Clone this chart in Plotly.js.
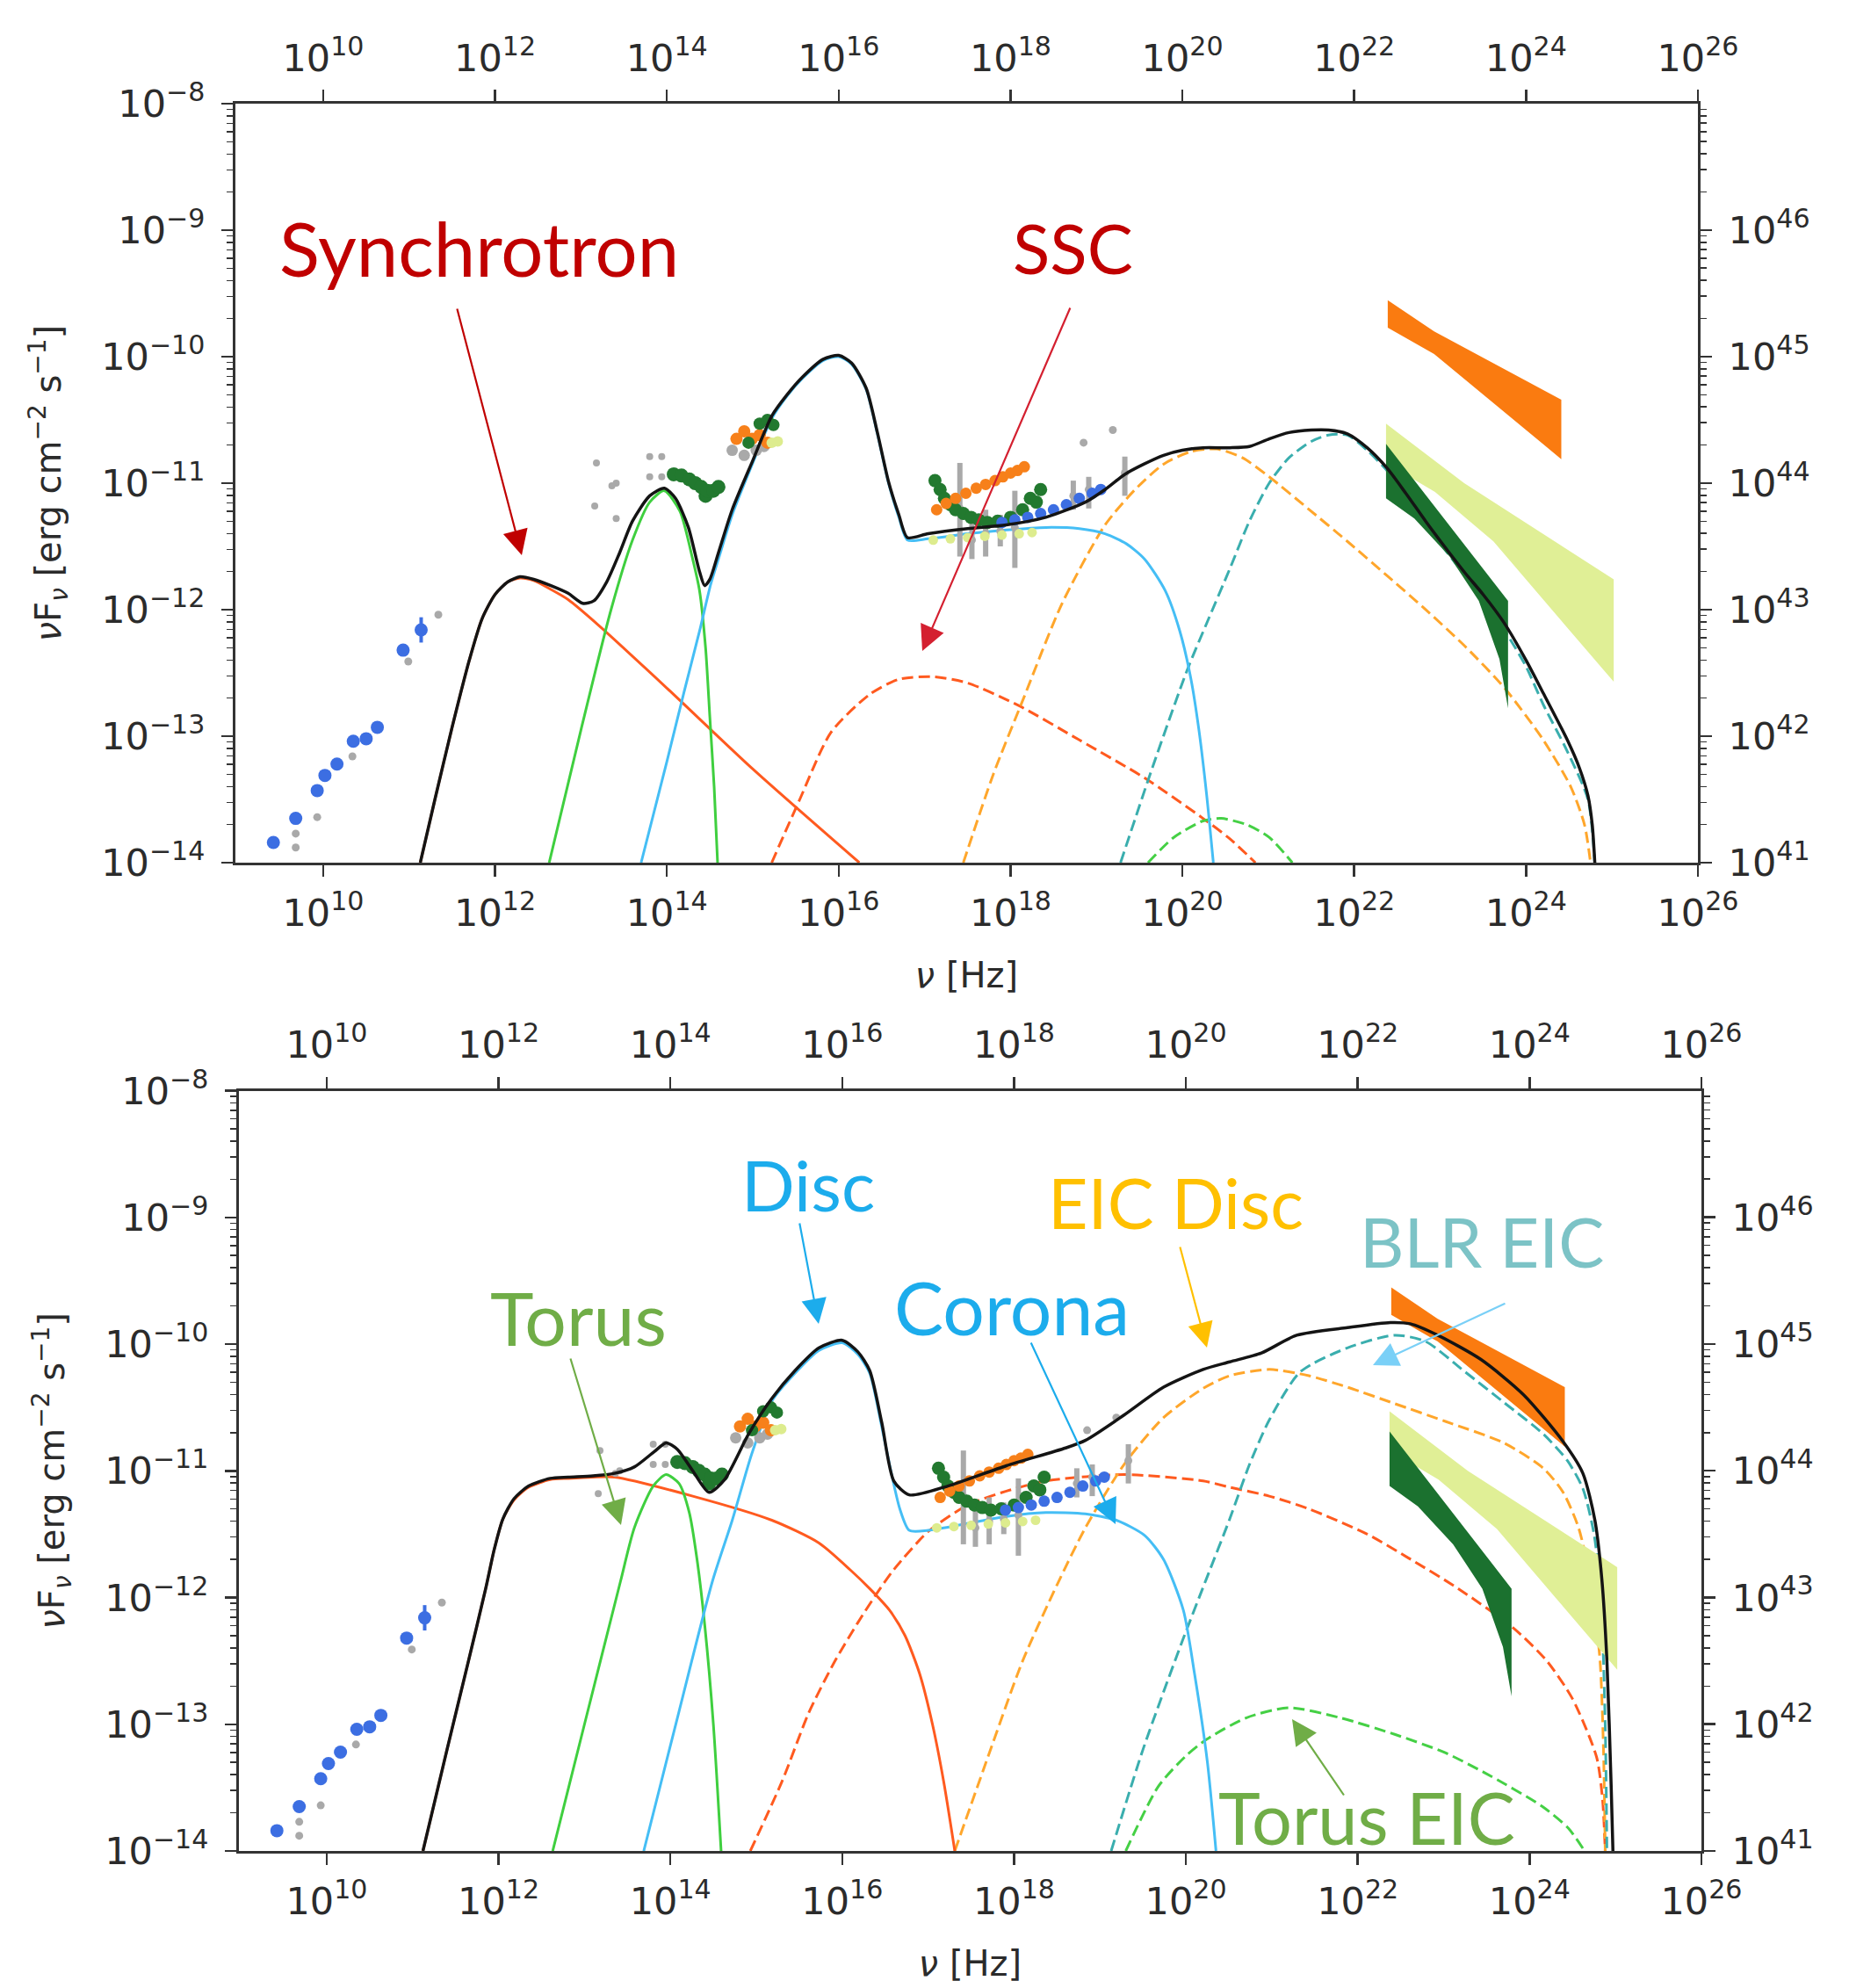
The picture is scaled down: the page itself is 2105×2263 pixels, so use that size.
<!DOCTYPE html>
<html><head><meta charset="utf-8">
<script src="https://cdn.plot.ly/plotly-3.0.1.min.js"></script>
<style>html,body{margin:0;padding:0;background:#fff;} #chart{width:2105px;height:2263px;}</style>
</head><body><div id="chart"></div>
<script>
// ---------- tick labels ----------
const xTickExp = [10,12,14,16,18,20,22,24,26];
const xTickText = ['10<sup>10</sup>','10<sup>12</sup>','10<sup>14</sup>','10<sup>16</sup>','10<sup>18</sup>','10<sup>20</sup>','10<sup>22</sup>','10<sup>24</sup>','10<sup>26</sup>'];
const yTickExp = [-14,-13,-12,-11,-10,-9,-8];
const yTickText = ['10<sup>−14</sup>','10<sup>−13</sup>','10<sup>−12</sup>','10<sup>−11</sup>','10<sup>−10</sup>','10<sup>−9</sup>','10<sup>−8</sup>'];
const yRightTickExp = [41,42,43,44,45,46];
const yRightTickText = ['10<sup>41</sup>','10<sup>42</sup>','10<sup>43</sup>','10<sup>44</sup>','10<sup>45</sup>','10<sup>46</sup>'];

// ---------- model curves, top panel (log10 nu, log10 nuFnu) ----------
const topTotalNu = [11.13,11.3,11.5,11.7,11.85,12.0,12.15,12.29,12.45,12.65,12.85,13.02,13.15,13.3,13.45,13.6,13.8,13.97,14.1,14.25,14.38,14.44,14.5,14.6,14.76,15.0,15.22,15.4,15.58,15.82,16.0,16.15,16.32,16.45,16.58,16.7,16.8,17.04,17.5,17.95,18.41,18.87,19.1,19.33,19.55,19.78,20.0,20.24,20.55,20.78,21.01,21.24,21.5,21.7,21.92,22.15,22.38,22.6,22.83,23.05,23.29,23.5,23.74,24.0,24.2,24.48,24.62,24.72,24.77,24.8];
const topTotalF  = [-14,-13.5,-12.93,-12.4,-12.07,-11.88,-11.78,-11.74,-11.76,-11.81,-11.87,-11.95,-11.93,-11.78,-11.55,-11.3,-11.1,-11.04,-11.12,-11.35,-11.7,-11.81,-11.76,-11.55,-11.21,-10.82,-10.47,-10.3,-10.16,-10.02,-9.99,-10.05,-10.25,-10.6,-10.99,-11.25,-11.43,-11.40,-11.36,-11.33,-11.27,-11.15,-11.05,-10.93,-10.85,-10.78,-10.74,-10.72,-10.72,-10.71,-10.65,-10.6,-10.58,-10.58,-10.61,-10.72,-10.88,-11.08,-11.3,-11.5,-11.71,-11.88,-12.1,-12.4,-12.66,-13.03,-13.25,-13.47,-13.7,-14];
const topSyncNu = [11.13,11.3,11.5,11.7,11.85,12.0,12.15,12.29,12.45,12.65,12.85,13.2,14.0,15.0,16.24];
const topSyncF  = [-14,-13.5,-12.93,-12.4,-12.07,-11.88,-11.78,-11.75,-11.77,-11.84,-11.92,-12.12,-12.62,-13.26,-14];
const topTorusNu = [12.63,13.0,13.35,13.6,13.8,13.97,14.15,14.3,14.38,14.45,14.5,14.55,14.59];
const topTorusF  = [-14,-12.95,-12.0,-11.45,-11.15,-11.06,-11.22,-11.6,-11.85,-12.3,-12.85,-13.4,-14];
const topDiscNu = [13.7,14.0,14.2,14.38,14.51,14.6,14.76,15.0,15.22,15.4,15.58,15.82,16.0,16.15,16.32,16.45,16.58,16.7,16.8,17.04,17.5,17.95,18.41,18.8,19.1,19.35,19.56,19.8,19.97,20.1,20.19,20.28,20.36];
const topDiscF  = [-14,-13.2,-12.65,-12.17,-11.8,-11.6,-11.25,-10.84,-10.49,-10.31,-10.17,-10.03,-10.0,-10.06,-10.26,-10.61,-11.0,-11.27,-11.45,-11.44,-11.4,-11.37,-11.35,-11.36,-11.4,-11.48,-11.6,-11.85,-12.17,-12.55,-12.94,-13.45,-14];
const topSSCNu = [15.22,15.54,15.91,16.36,16.7,17.1,17.5,18.1,18.8,19.56,20.24,20.55,20.85];
const topSSCF  = [-14,-13.51,-12.97,-12.67,-12.55,-12.53,-12.58,-12.76,-13.03,-13.33,-13.65,-13.81,-14];
const topEICDiscNu = [17.45,17.8,18.14,18.6,19.1,19.45,19.78,20.1,20.4,20.7,21.01,21.46,21.92,22.38,22.8,23.29,23.75,24.2,24.52,24.68,24.75];
const topEICDiscF  = [-14,-13.3,-12.72,-11.95,-11.33,-11.05,-10.85,-10.75,-10.73,-10.8,-10.95,-11.2,-11.46,-11.73,-11.98,-12.29,-12.62,-13.03,-13.4,-13.7,-14];
const topBLRNu = [19.28,19.65,20.06,20.3,20.55,20.78,21.01,21.24,21.5,21.7,21.92,22.15,22.38,22.6,22.83,23.05,23.29,23.5,23.81,24.0,24.2,24.48,24.72,24.8];
const topBLRF  = [-14,-13.25,-12.47,-12.08,-11.68,-11.3,-11.0,-10.8,-10.67,-10.62,-10.62,-10.74,-10.9,-11.1,-11.32,-11.52,-11.73,-11.92,-12.23,-12.45,-12.75,-13.12,-13.5,-14];
const topTorusEICNu = [19.6,19.9,20.24,20.45,20.75,21.01,21.28];
const topTorusEICF  = [-14,-13.8,-13.67,-13.65,-13.7,-13.8,-14];

// ---------- model curves, bottom panel ----------
const botTotalNu = [11.12,11.4,11.65,11.85,11.95,12.05,12.18,12.35,12.6,12.81,13.1,13.35,13.58,13.81,13.95,14.08,14.26,14.45,14.63,14.91,15.18,15.45,15.73,16.0,16.18,16.32,16.46,16.6,16.78,17.23,17.91,18.6,18.83,19.28,19.74,20.2,20.51,20.88,21.29,21.88,22.38,22.61,22.93,23.43,23.93,24.39,24.62,24.76,24.84,24.9,24.95,24.97];
const botTotalF  = [-14,-13.2,-12.5,-11.93,-11.62,-11.38,-11.22,-11.12,-11.06,-11.05,-11.04,-11.02,-10.97,-10.85,-10.78,-10.83,-11.0,-11.17,-11.07,-10.71,-10.43,-10.21,-10.03,-9.97,-10.06,-10.21,-10.62,-11.08,-11.19,-11.12,-10.96,-10.82,-10.76,-10.56,-10.34,-10.2,-10.14,-10.07,-9.93,-9.87,-9.83,-9.84,-9.93,-10.12,-10.4,-10.77,-11.02,-11.39,-11.85,-12.5,-13.5,-14];
const botSyncNu = [11.12,11.4,11.65,11.85,11.95,12.05,12.18,12.35,12.6,12.81,13.1,13.35,14.26,15.18,15.73,16.09,16.32,16.55,16.73,16.9,17.05,17.18,17.31];
const botSyncF  = [-14,-13.2,-12.5,-11.93,-11.62,-11.38,-11.23,-11.13,-11.07,-11.06,-11.05,-11.05,-11.2,-11.39,-11.57,-11.78,-11.93,-12.1,-12.3,-12.6,-13.0,-13.45,-14];
const botTorusNu = [12.63,13.0,13.42,13.58,13.8,13.95,14.1,14.22,14.31,14.4,14.5,14.59];
const botTorusF  = [-14,-13.0,-11.87,-11.45,-11.12,-11.03,-11.1,-11.33,-11.7,-12.22,-13.0,-14];
const botDiscNu = [13.69,14.1,14.49,14.72,14.95,15.18,15.45,15.73,16.0,16.18,16.32,16.45,16.55,16.67,16.78,17.0,17.91,18.37,18.83,19.19,19.52,19.74,19.97,20.1,20.25,20.35];
const botDiscF  = [-14,-12.9,-11.87,-11.39,-10.86,-10.45,-10.23,-10.05,-9.99,-10.08,-10.23,-10.62,-10.95,-11.3,-11.47,-11.47,-11.36,-11.33,-11.34,-11.39,-11.51,-11.7,-12.1,-12.6,-13.3,-14];
const botSSCNu = [14.93,15.3,15.61,15.9,16.18,16.4,16.6,17.0,17.46,17.91,18.37,19.28,20.2,20.51,20.97,21.43,22.11,22.57,23.17,23.81,24.2,24.5,24.78,24.85,24.88];
const botSSCF  = [-14,-13.45,-12.91,-12.52,-12.2,-11.97,-11.78,-11.48,-11.27,-11.16,-11.08,-11.03,-11.08,-11.13,-11.2,-11.3,-11.5,-11.68,-11.93,-12.24,-12.5,-12.8,-13.26,-13.6,-14];
const botEICDiscNu = [17.31,17.7,18.1,18.5,18.83,19.28,19.74,20.2,20.51,20.97,21.43,21.88,22.43,23.02,23.7,24.16,24.39,24.57,24.72,24.82,24.86,24.88];
const botEICDiscF  = [-14,-13.25,-12.5,-11.9,-11.45,-10.95,-10.58,-10.35,-10.25,-10.2,-10.25,-10.34,-10.47,-10.61,-10.78,-10.98,-11.17,-11.45,-11.9,-12.5,-13.2,-14];
const botBLRNu = [19.13,19.5,19.96,20.24,20.51,20.74,20.97,21.33,21.88,22.43,22.79,23.25,23.7,24.16,24.44,24.62,24.75,24.83,24.88,24.9];
const botBLRF  = [-14,-13.2,-12.34,-11.85,-11.38,-10.95,-10.6,-10.22,-10.03,-9.93,-9.98,-10.22,-10.46,-10.71,-10.92,-11.14,-11.5,-12.0,-13.0,-14];
const botTorusEICNu = [19.3,19.68,20.0,20.24,20.7,21.2,21.8,22.43,23.0,23.47,24.15,24.45,24.64];
const botTorusEICF  = [-14,-13.49,-13.25,-13.12,-12.95,-12.87,-12.95,-13.08,-13.22,-13.38,-13.65,-13.82,-14];

// ---------- observations (same in both panels) ----------
const radioBlueNu = [9.42,9.68,9.93,10.02,10.16,10.35,10.5,10.63,10.93,11.14];
const radioBlueF  = [-13.84,-13.65,-13.43,-13.31,-13.22,-13.04,-13.02,-12.93,-12.32,-12.16];
const radioBlueErr = [0,0,0,0,0,0,0,0,0,0.1];
const radioGreyNu = [9.68,9.68,9.93,10.34,10.99,11.34];
const radioGreyF  = [-13.77,-13.88,-13.64,-13.16,-12.41,-12.04];
const irGreyNu = [13.16,13.18,13.36,13.41,13.41,13.80,13.94,13.80,13.94,14.08,14.21];
const irGreyF  = [-11.18,-10.84,-11.02,-11.0,-11.28,-10.79,-10.79,-10.95,-10.95,-10.95,-10.95];
const irGreenNu = [14.08,14.17,14.26,14.33,14.40,14.45,14.47,14.54,14.6];
const irGreenF  = [-10.93,-10.94,-10.97,-11.0,-11.03,-11.1,-11.06,-11.06,-11.03];
const optGreyNu = [14.76,14.9,15.04,15.13];
const optGreyF  = [-10.74,-10.78,-10.74,-10.71];
const optGreenNu = [14.95,15.08,15.17,15.24];
const optGreenF  = [-10.68,-10.53,-10.5,-10.54];
const optOrangeNu = [14.81,14.9,14.99,15.08,15.17];
const optOrangeF  = [-10.65,-10.59,-10.65,-10.62,-10.68];
const optLimeNu = [15.22,15.29];
const optLimeF  = [-10.68,-10.67];
const xOrangeNu = [17.14,17.25,17.36,17.48,17.6,17.71,17.82,17.91,18.0,18.08,18.16];
const xOrangeF  = [-11.21,-11.16,-11.12,-11.08,-11.04,-11.01,-10.98,-10.95,-10.92,-10.9,-10.87];
const xGreenNu = [17.12,17.18,17.23,17.3,17.36,17.45,17.54,17.63,17.73,17.85,18.0,18.14,18.23,18.3,18.35];
const xGreenF  = [-10.98,-11.05,-11.12,-11.17,-11.21,-11.24,-11.27,-11.29,-11.31,-11.3,-11.27,-11.21,-11.12,-11.15,-11.05];
const xBlueNu = [17.9,18.05,18.2,18.35,18.5,18.65,18.8,18.95,19.05];
const xBlueF  = [-11.31,-11.29,-11.27,-11.24,-11.21,-11.17,-11.12,-11.08,-11.05];
const xLimeNu = [17.1,17.3,17.5,17.7,17.9,18.1,18.25];
const xLimeF  = [-11.45,-11.44,-11.43,-11.42,-11.41,-11.4,-11.39];
const xGreyNu = [17.41,17.55,17.71,17.88,18.05,18.73,18.91,19.33,18.85,19.19];
const xGreyF  = [-11.2,-11.45,-11.4,-11.38,-11.35,-11.1,-11.05,-10.92,-10.68,-10.58];
const xGreyLo = [-11.58,-11.6,-11.58,-11.5,-11.67,-11.21,-11.2,-11.1,-10.68,-10.58];
const xGreyHi = [-10.84,-11.3,-11.21,-11.25,-11.06,-10.98,-10.95,-10.79,-10.68,-10.58];
// gamma-ray butterflies (polygon outlines)
const bowOrangeNu = [22.39,22.93,24.41,24.41,22.93,22.39];
const bowOrangeF  = [-9.553,-9.8,-10.34,-10.81,-9.98,-9.77];
const bowLimeNu = [22.37,23.28,25.02,25.02,24.3,23.62,22.94,22.37];
const bowLimeF  = [-10.53,-11.0,-11.76,-12.57,-12.0,-11.46,-11.07,-10.84];
const bowGreenNu = [22.37,23.07,23.79,23.79,23.69,23.45,23.11,22.7,22.37];
const bowGreenF  = [-10.69,-11.3,-11.93,-12.78,-12.39,-11.93,-11.58,-11.28,-11.12];

// ---------- helpers ----------
const P = v => Math.pow(10, v);
const W = 2105, H = 2263;
function curve(nu, f, color, width, dash, xa, ya) {
  return {x: nu.map(P), y: f.map(P), mode: 'lines', xaxis: xa, yaxis: ya,
    line: {color: color, width: width, dash: dash || 'solid', shape: 'spline', smoothing: 0.7},
    hoverinfo: 'skip', showlegend: false};
}
function pts(nu, f, color, size, xa, ya, extra) {
  const t = {x: nu.map(P), y: f.map(P), mode: 'markers', xaxis: xa, yaxis: ya,
    marker: {color: color, size: size, line: {width: 0}}, hoverinfo: 'skip', showlegend: false};
  return Object.assign(t, extra || {});
}
function poly(nu, f, color, xa, ya) {
  return {x: nu.map(P), y: f.map(P), mode: 'lines', fill: 'toself', fillcolor: color, xaxis: xa, yaxis: ya,
    line: {width: 0, color: color}, hoverinfo: 'skip', showlegend: false};
}
// empty carrier trace so that the secondary (top / right) axes get drawn
function carrier(xa, ya) {
  return {x: [], y: [], mode: 'lines', xaxis: xa, yaxis: ya, hoverinfo: 'skip', showlegend: false};
}
const DASH = '13px,6px';
const C = {black:'#141414', sync:'#FF5A1F', torus:'#3FCF3F', disc:'#45BEF5', eic:'#FFA62B', blr:'#3AAEAE', torEIC:'#45D045',
  rBlue:'#3C6EE2', grey:'#A9A9A9', dGreen:'#22792F', orange:'#F7801A', lime:'#DDEC8E',
  bowO:'#FA7B10', bowL:'#E0EF96', bowG:'#1B712F'};

function panel(m, xa, ya) {
  const t = [];
  t.push(curve(m.ssc[0], m.ssc[1], C.sync, 3, DASH, xa, ya));
  t.push(curve(m.tei[0], m.tei[1], C.torEIC, 3, DASH, xa, ya));
  t.push(curve(m.eic[0], m.eic[1], C.eic, 3, DASH, xa, ya));
  t.push(curve(m.blr[0], m.blr[1], C.blr, 3, DASH, xa, ya));
  t.push(curve(m.sync[0], m.sync[1], C.sync, 3, null, xa, ya));
  t.push(curve(m.torus[0], m.torus[1], C.torus, 3, null, xa, ya));
  t.push(curve(m.disc[0], m.disc[1], C.disc, 3, null, xa, ya));
  // observations
  t.push(pts(radioGreyNu, radioGreyF, C.grey, 9, xa, ya));
  t.push(pts(radioBlueNu, radioBlueF, C.rBlue, 15, xa, ya, {error_y: {type:'data', symmetric:false,
     array: radioBlueNu.map((v,i)=>P(radioBlueF[i]+radioBlueErr[i])-P(radioBlueF[i])),
     arrayminus: radioBlueNu.map((v,i)=>P(radioBlueF[i])-P(radioBlueF[i]-radioBlueErr[i])),
     color: C.rBlue, thickness: 4, width: 0}}));
  t.push(pts(irGreyNu, irGreyF, C.grey, 8, xa, ya));
  t.push(pts(irGreenNu, irGreenF, C.dGreen, 16, xa, ya));
  t.push(pts(optGreyNu, optGreyF, C.grey, 13, xa, ya));
  t.push(pts(optOrangeNu, optOrangeF, C.orange, 14, xa, ya));
  t.push(pts(optGreenNu, optGreenF, C.dGreen, 14, xa, ya));
  t.push(pts(optLimeNu, optLimeF, C.lime, 12, xa, ya));
  t.push(pts(xGreyNu, xGreyF, C.grey, 9, xa, ya, {error_y: {type:'data', symmetric:false,
     array: xGreyNu.map((v,i)=>P(xGreyHi[i])-P(xGreyF[i])),
     arrayminus: xGreyNu.map((v,i)=>P(xGreyF[i])-P(xGreyLo[i])),
     color: C.grey, thickness: 6, width: 0}}));
  t.push(pts(xLimeNu, xLimeF, C.lime, 11, xa, ya));
  t.push(pts(xGreenNu, xGreenF, C.dGreen, 15, xa, ya));
  t.push(pts(xOrangeNu, xOrangeF, C.orange, 13, xa, ya));
  t.push(pts(xBlueNu, xBlueF, C.rBlue, 13, xa, ya));
  // gamma-ray butterflies
  t.push(poly(bowOrangeNu, bowOrangeF, C.bowO, xa, ya));
  t.push(poly(bowLimeNu, bowLimeF, C.bowL, xa, ya));
  t.push(poly(bowGreenNu, bowGreenF, C.bowG, xa, ya));
  // total
  t.push(curve(m.total[0], m.total[1], C.black, 3.5, null, xa, ya));
  return t;
}

const topModel = {total:[topTotalNu, topTotalF], sync:[topSyncNu, topSyncF], torus:[topTorusNu, topTorusF],
  disc:[topDiscNu, topDiscF], ssc:[topSSCNu, topSSCF], eic:[topEICDiscNu, topEICDiscF], blr:[topBLRNu, topBLRF], tei:[topTorusEICNu, topTorusEICF]};
const botModel = {total:[botTotalNu, botTotalF], sync:[botSyncNu, botSyncF], torus:[botTorusNu, botTorusF],
  disc:[botDiscNu, botDiscF], ssc:[botSSCNu, botSSCF], eic:[botEICDiscNu, botEICDiscF], blr:[botBLRNu, botBLRF], tei:[botTorusEICNu, botTorusEICF]};

const traces = panel(topModel, 'x', 'y').concat(panel(botModel, 'x3', 'y3'),
  [carrier('x2', 'y2'), carrier('x4', 'y4')]);

// ---------- axes ----------
const tickFont = {family: 'DejaVu Sans', size: 43, color: '#2b2b2b'};
const titleFont = {family: 'DejaVu Sans', size: 40, color: '#2b2b2b'};
function minorVals(e0, e1) { const a = []; for (let e = e0; e < e1; e++) for (let k = 2; k <= 9; k++) a.push(k * P(e)); return a; }
const base = {type:'log', showgrid:false, zeroline:false, showline:true, linecolor:'#333', linewidth:3,
  ticks:'outside', tickcolor:'#333', tickwidth:2.5, ticklen:13, tickfont: tickFont, tickmode:'array'};
const xRange = [8.978, 26];
function xAx(dom, anchor, side, overlay, withTitle) {
  const a = Object.assign({}, base, {domain: dom, anchor: anchor, side: side, range: xRange,
    tickvals: xTickExp.map(P), ticktext: xTickText, ticklabelstandoff: 4});
  if (overlay) a.overlaying = overlay;
  if (withTitle) a.title = {text: '<i>ν</i> [Hz]', font: titleFont, standoff: 34};
  return a;
}
function yAx(dom, anchor, side, overlay, right) {
  const a = Object.assign({}, base, {domain: dom, anchor: anchor, side: side, ticklabelstandoff: 10,
    minor: {ticks:'outside', ticklen: 7, tickwidth: 1.5, tickcolor:'#333'}});
  if (right) {
    a.range = [41, 46.999]; a.tickvals = yRightTickExp.map(P); a.ticktext = yRightTickText;
    a.minor.tickvals = minorVals(41, 47);
  } else {
    a.range = [-14, -8]; a.tickvals = yTickExp.map(P); a.ticktext = yTickText;
    a.minor.tickvals = minorVals(-14, -8);
    a.title = {text: '<i>ν</i>F<sub><i>ν</i></sub> [erg cm<sup>−2</sup> s<sup>−1</sup>]', font: titleFont, standoff: 34};
  }
  if (overlay) a.overlaying = overlay;
  return a;
}
const topX = [268/W, 1933/W], botX = [272/W, 1937/W];
const topY = [1 - 982/H, 1 - 118/H], botY = [1 - 2107/H, 1 - 1241.5/H];

// ---------- annotations ----------
function label(text, cx, cy, color, size) {
  return {text: text, xref:'paper', yref:'paper', x: cx/W, y: 1 - cy/H, xanchor:'center', yanchor:'middle',
    showarrow: false, font: {family: 'Lato', size: size, color: color}};
}
function arrow(tipX, tipY, tailX, tailY, color) {
  return {text:'', xref:'paper', yref:'paper', x: tipX/W, y: 1 - tipY/H, ax: tailX - tipX, ay: tailY - tipY,
    showarrow: true, arrowhead: 2, arrowsize: 2.6, arrowwidth: 2.2, arrowcolor: color, standoff: 0};
}
const RED = '#C00000', GRN = '#70AD47', BLU = '#1CACEC', GLD = '#FFC000', TEAL = '#7CC3C6';
const annotations = [
  label('Synchrotron', 545, 282, RED, 85), label('SSC', 1221, 282, RED, 78),
  arrow(594, 632, 520, 350, RED), arrow(1050, 741, 1219, 349, '#D42030'),
  label('Torus', 658, 1499, GRN, 84), label('Disc', 920, 1348, BLU, 80), label('Corona', 1152, 1487, BLU, 84),
  label('EIC Disc', 1338, 1368, GLD, 79), label('BLR EIC', 1687, 1413, TEAL, 78), label('Torus EIC', 1556, 2068, GRN, 81),
  arrow(707, 1736, 649, 1545, GRN), arrow(932, 1507, 910, 1391, BLU), arrow(1270, 1735, 1173, 1527, BLU),
  arrow(1374, 1534, 1343, 1418, GLD), arrow(1563, 1554, 1715, 1483, '#7AD0F7'), arrow(1471, 1957, 1531, 2045, GRN)
];

const layout = {
  width: W, height: H, margin: {l:0, r:0, t:0, b:0}, paper_bgcolor:'#fff', plot_bgcolor:'#fff',
  showlegend: false, font: {family: 'DejaVu Sans', color: '#2b2b2b'},
  xaxis: xAx(topX, 'y', 'bottom', null, true),
  xaxis2: xAx(topX, 'y2', 'top', 'x', false),
  yaxis: yAx(topY, 'x', 'left', null, false),
  yaxis2: yAx(topY, 'x2', 'right', 'y', true),
  xaxis3: xAx(botX, 'y3', 'bottom', null, true),
  xaxis4: xAx(botX, 'y4', 'top', 'x3', false),
  yaxis3: yAx(botY, 'x3', 'left', null, false),
  yaxis4: yAx(botY, 'x4', 'right', 'y3', true),
  annotations: annotations
};
Plotly.newPlot('chart', traces, layout, {staticPlot: true});
</script></body></html>
